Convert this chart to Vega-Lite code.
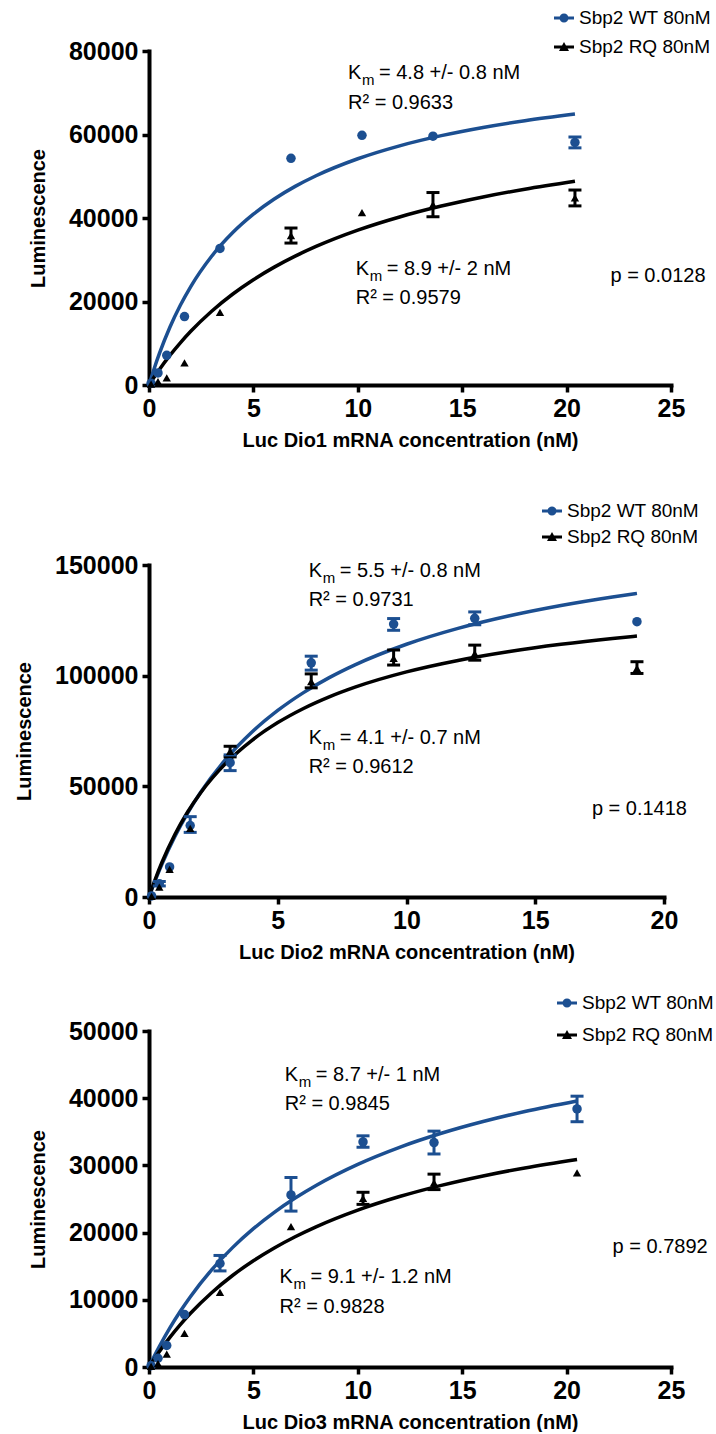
{
  "$schema": "https://vega.github.io/schema/vega-lite/v6.json",
  "padding": {"left": 14, "top": 8, "right": 0, "bottom": 0},
  "spacing": 0,
  "bounds": "flush",
  "resolve": {"scale": {"color": "independent"}, "legend": {"color": "independent"}},
  "config": {
    "view": {"stroke": null},
    "tick": {"opacity": 1},
    "rule": {"opacity": 1},
    "axis": {
      "grid": false,
      "domainColor": "black", "domainWidth": 4, "domainCap": "square",
      "tickColor": "black", "tickWidth": 3.5, "tickSize": 7,
      "labelFont": "Liberation Sans", "labelFontWeight": "bold", "labelFontSize": 25, "labelColor": "black", "labelPadding": 4,
      "titleFont": "Liberation Sans", "titleFontWeight": "bold", "titleFontSize": 20, "titleColor": "black"
    },
    "axisX": {"titlePadding": 9, "labelFlush": false},
    "axisY": {"titlePadding": 20},
    "legend": {"labelFont": "Liberation Sans", "labelFontSize": 19, "labelColor": "black", "symbolSize": 400, "labelOffset": 5, "title": null, "symbolStrokeWidth": 0}
  },
  "datasets": {
    "points": [
      {"panel": "Dio1", "series": "Sbp2 WT 80nM", "x": 0.1, "y": 400},
      {"panel": "Dio1", "series": "Sbp2 WT 80nM", "x": 0.43, "y": 2900},
      {"panel": "Dio1", "series": "Sbp2 WT 80nM", "x": 0.85, "y": 7100},
      {"panel": "Dio1", "series": "Sbp2 WT 80nM", "x": 1.7, "y": 16400},
      {"panel": "Dio1", "series": "Sbp2 WT 80nM", "x": 3.4, "y": 32700},
      {"panel": "Dio1", "series": "Sbp2 WT 80nM", "x": 6.8, "y": 54300},
      {"panel": "Dio1", "series": "Sbp2 WT 80nM", "x": 10.2, "y": 59800},
      {"panel": "Dio1", "series": "Sbp2 WT 80nM", "x": 13.6, "y": 59600},
      {"panel": "Dio1", "series": "Sbp2 WT 80nM", "x": 20.4, "y": 58100, "lo": 56800, "hi": 59400},
      {"panel": "Dio1", "series": "Sbp2 RQ 80nM", "x": 0.1, "y": 200},
      {"panel": "Dio1", "series": "Sbp2 RQ 80nM", "x": 0.43, "y": 800},
      {"panel": "Dio1", "series": "Sbp2 RQ 80nM", "x": 0.85, "y": 1700},
      {"panel": "Dio1", "series": "Sbp2 RQ 80nM", "x": 1.7, "y": 5300},
      {"panel": "Dio1", "series": "Sbp2 RQ 80nM", "x": 3.4, "y": 17400},
      {"panel": "Dio1", "series": "Sbp2 RQ 80nM", "x": 6.8, "y": 35800, "lo": 34000, "hi": 37600},
      {"panel": "Dio1", "series": "Sbp2 RQ 80nM", "x": 10.2, "y": 41300},
      {"panel": "Dio1", "series": "Sbp2 RQ 80nM", "x": 13.6, "y": 43200, "lo": 40300, "hi": 46100},
      {"panel": "Dio1", "series": "Sbp2 RQ 80nM", "x": 20.4, "y": 44800, "lo": 42900, "hi": 46700},
      {"panel": "Dio2", "series": "Sbp2 WT 80nM", "x": 0.1, "y": 500},
      {"panel": "Dio2", "series": "Sbp2 WT 80nM", "x": 0.4, "y": 6000, "lo": 5000, "hi": 7000},
      {"panel": "Dio2", "series": "Sbp2 WT 80nM", "x": 0.8, "y": 13600},
      {"panel": "Dio2", "series": "Sbp2 WT 80nM", "x": 1.6, "y": 32300, "lo": 29200, "hi": 36300},
      {"panel": "Dio2", "series": "Sbp2 WT 80nM", "x": 3.15, "y": 60700, "lo": 57100, "hi": 64200},
      {"panel": "Dio2", "series": "Sbp2 WT 80nM", "x": 6.3, "y": 105800, "lo": 102500, "hi": 108800},
      {"panel": "Dio2", "series": "Sbp2 WT 80nM", "x": 9.5, "y": 123300, "lo": 120500, "hi": 125800},
      {"panel": "Dio2", "series": "Sbp2 WT 80nM", "x": 12.65, "y": 125900, "lo": 123000, "hi": 128800},
      {"panel": "Dio2", "series": "Sbp2 WT 80nM", "x": 18.95, "y": 124400},
      {"panel": "Dio2", "series": "Sbp2 RQ 80nM", "x": 0.1, "y": 300},
      {"panel": "Dio2", "series": "Sbp2 RQ 80nM", "x": 0.4, "y": 4500},
      {"panel": "Dio2", "series": "Sbp2 RQ 80nM", "x": 0.8, "y": 12500},
      {"panel": "Dio2", "series": "Sbp2 RQ 80nM", "x": 1.6, "y": 31000},
      {"panel": "Dio2", "series": "Sbp2 RQ 80nM", "x": 3.15, "y": 65800, "lo": 63300, "hi": 68100},
      {"panel": "Dio2", "series": "Sbp2 RQ 80nM", "x": 6.3, "y": 97300, "lo": 94500, "hi": 100800},
      {"panel": "Dio2", "series": "Sbp2 RQ 80nM", "x": 9.5, "y": 107800, "lo": 104800, "hi": 111600},
      {"panel": "Dio2", "series": "Sbp2 RQ 80nM", "x": 12.65, "y": 110000, "lo": 107000, "hi": 113800},
      {"panel": "Dio2", "series": "Sbp2 RQ 80nM", "x": 18.95, "y": 103300, "lo": 101000, "hi": 106300},
      {"panel": "Dio3", "series": "Sbp2 WT 80nM", "x": 0.1, "y": 200},
      {"panel": "Dio3", "series": "Sbp2 WT 80nM", "x": 0.43, "y": 1300},
      {"panel": "Dio3", "series": "Sbp2 WT 80nM", "x": 0.85, "y": 3200},
      {"panel": "Dio3", "series": "Sbp2 WT 80nM", "x": 1.7, "y": 7800},
      {"panel": "Dio3", "series": "Sbp2 WT 80nM", "x": 3.4, "y": 15400, "lo": 14300, "hi": 16600},
      {"panel": "Dio3", "series": "Sbp2 WT 80nM", "x": 6.8, "y": 25600, "lo": 23200, "hi": 28200},
      {"panel": "Dio3", "series": "Sbp2 WT 80nM", "x": 10.25, "y": 33500, "lo": 32700, "hi": 34400},
      {"panel": "Dio3", "series": "Sbp2 WT 80nM", "x": 13.65, "y": 33400, "lo": 31700, "hi": 35100},
      {"panel": "Dio3", "series": "Sbp2 WT 80nM", "x": 20.5, "y": 38400, "lo": 36500, "hi": 40300},
      {"panel": "Dio3", "series": "Sbp2 RQ 80nM", "x": 0.1, "y": 100},
      {"panel": "Dio3", "series": "Sbp2 RQ 80nM", "x": 0.43, "y": 500},
      {"panel": "Dio3", "series": "Sbp2 RQ 80nM", "x": 0.85, "y": 1900},
      {"panel": "Dio3", "series": "Sbp2 RQ 80nM", "x": 1.7, "y": 5000},
      {"panel": "Dio3", "series": "Sbp2 RQ 80nM", "x": 3.4, "y": 11100},
      {"panel": "Dio3", "series": "Sbp2 RQ 80nM", "x": 6.8, "y": 20900},
      {"panel": "Dio3", "series": "Sbp2 RQ 80nM", "x": 10.25, "y": 25100, "lo": 24200, "hi": 26000},
      {"panel": "Dio3", "series": "Sbp2 RQ 80nM", "x": 13.65, "y": 27400, "lo": 26400, "hi": 28700},
      {"panel": "Dio3", "series": "Sbp2 RQ 80nM", "x": 20.5, "y": 28900}
    ],
    "curves": [
      {"panel": "Dio1", "series": "Sbp2 WT 80nM", "x": 0, "y": 0},
      {"panel": "Dio1", "series": "Sbp2 WT 80nM", "x": 0.25, "y": 3970},
      {"panel": "Dio1", "series": "Sbp2 WT 80nM", "x": 0.5, "y": 7566},
      {"panel": "Dio1", "series": "Sbp2 WT 80nM", "x": 1, "y": 13828},
      {"panel": "Dio1", "series": "Sbp2 WT 80nM", "x": 1.5, "y": 19095},
      {"panel": "Dio1", "series": "Sbp2 WT 80nM", "x": 2, "y": 23588},
      {"panel": "Dio1", "series": "Sbp2 WT 80nM", "x": 3, "y": 30846},
      {"panel": "Dio1", "series": "Sbp2 WT 80nM", "x": 4, "y": 36455},
      {"panel": "Dio1", "series": "Sbp2 WT 80nM", "x": 5, "y": 40918},
      {"panel": "Dio1", "series": "Sbp2 WT 80nM", "x": 6, "y": 44556},
      {"panel": "Dio1", "series": "Sbp2 WT 80nM", "x": 7, "y": 47576},
      {"panel": "Dio1", "series": "Sbp2 WT 80nM", "x": 8, "y": 50125},
      {"panel": "Dio1", "series": "Sbp2 WT 80nM", "x": 10, "y": 54189},
      {"panel": "Dio1", "series": "Sbp2 WT 80nM", "x": 12, "y": 57286},
      {"panel": "Dio1", "series": "Sbp2 WT 80nM", "x": 14, "y": 59723},
      {"panel": "Dio1", "series": "Sbp2 WT 80nM", "x": 16, "y": 61692},
      {"panel": "Dio1", "series": "Sbp2 WT 80nM", "x": 18, "y": 63316},
      {"panel": "Dio1", "series": "Sbp2 WT 80nM", "x": 20.4, "y": 64924},
      {"panel": "Dio1", "series": "Sbp2 RQ 80nM", "x": 0, "y": 0},
      {"panel": "Dio1", "series": "Sbp2 RQ 80nM", "x": 0.25, "y": 1915},
      {"panel": "Dio1", "series": "Sbp2 RQ 80nM", "x": 0.5, "y": 3729},
      {"panel": "Dio1", "series": "Sbp2 RQ 80nM", "x": 1, "y": 7081},
      {"panel": "Dio1", "series": "Sbp2 RQ 80nM", "x": 1.5, "y": 10111},
      {"panel": "Dio1", "series": "Sbp2 RQ 80nM", "x": 2, "y": 12862},
      {"panel": "Dio1", "series": "Sbp2 RQ 80nM", "x": 3, "y": 17672},
      {"panel": "Dio1", "series": "Sbp2 RQ 80nM", "x": 4, "y": 21736},
      {"panel": "Dio1", "series": "Sbp2 RQ 80nM", "x": 5, "y": 25216},
      {"panel": "Dio1", "series": "Sbp2 RQ 80nM", "x": 6, "y": 28228},
      {"panel": "Dio1", "series": "Sbp2 RQ 80nM", "x": 7, "y": 30862},
      {"panel": "Dio1", "series": "Sbp2 RQ 80nM", "x": 8, "y": 33183},
      {"panel": "Dio1", "series": "Sbp2 RQ 80nM", "x": 10, "y": 37090},
      {"panel": "Dio1", "series": "Sbp2 RQ 80nM", "x": 12, "y": 40249},
      {"panel": "Dio1", "series": "Sbp2 RQ 80nM", "x": 14, "y": 42856},
      {"panel": "Dio1", "series": "Sbp2 RQ 80nM", "x": 16, "y": 45044},
      {"panel": "Dio1", "series": "Sbp2 RQ 80nM", "x": 18, "y": 46907},
      {"panel": "Dio1", "series": "Sbp2 RQ 80nM", "x": 20.4, "y": 48807},
      {"panel": "Dio2", "series": "Sbp2 WT 80nM", "x": 0, "y": 0},
      {"panel": "Dio2", "series": "Sbp2 WT 80nM", "x": 0.25, "y": 7696},
      {"panel": "Dio2", "series": "Sbp2 WT 80nM", "x": 0.5, "y": 14750},
      {"panel": "Dio2", "series": "Sbp2 WT 80nM", "x": 1, "y": 27231},
      {"panel": "Dio2", "series": "Sbp2 WT 80nM", "x": 1.5, "y": 37929},
      {"panel": "Dio2", "series": "Sbp2 WT 80nM", "x": 2, "y": 47200},
      {"panel": "Dio2", "series": "Sbp2 WT 80nM", "x": 3, "y": 62471},
      {"panel": "Dio2", "series": "Sbp2 WT 80nM", "x": 4, "y": 74526},
      {"panel": "Dio2", "series": "Sbp2 WT 80nM", "x": 5, "y": 84286},
      {"panel": "Dio2", "series": "Sbp2 WT 80nM", "x": 6, "y": 92348},
      {"panel": "Dio2", "series": "Sbp2 WT 80nM", "x": 7, "y": 99120},
      {"panel": "Dio2", "series": "Sbp2 WT 80nM", "x": 8, "y": 104889},
      {"panel": "Dio2", "series": "Sbp2 WT 80nM", "x": 10, "y": 114194},
      {"panel": "Dio2", "series": "Sbp2 WT 80nM", "x": 12, "y": 121371},
      {"panel": "Dio2", "series": "Sbp2 WT 80nM", "x": 14, "y": 127077},
      {"panel": "Dio2", "series": "Sbp2 WT 80nM", "x": 16, "y": 131721},
      {"panel": "Dio2", "series": "Sbp2 WT 80nM", "x": 18, "y": 135574},
      {"panel": "Dio2", "series": "Sbp2 WT 80nM", "x": 18.95, "y": 137184},
      {"panel": "Dio2", "series": "Sbp2 RQ 80nM", "x": 0, "y": 0},
      {"panel": "Dio2", "series": "Sbp2 RQ 80nM", "x": 0.25, "y": 8241},
      {"panel": "Dio2", "series": "Sbp2 RQ 80nM", "x": 0.5, "y": 15587},
      {"panel": "Dio2", "series": "Sbp2 RQ 80nM", "x": 1, "y": 28118},
      {"panel": "Dio2", "series": "Sbp2 RQ 80nM", "x": 1.5, "y": 38411},
      {"panel": "Dio2", "series": "Sbp2 RQ 80nM", "x": 2, "y": 47016},
      {"panel": "Dio2", "series": "Sbp2 RQ 80nM", "x": 3, "y": 60592},
      {"panel": "Dio2", "series": "Sbp2 RQ 80nM", "x": 4, "y": 70815},
      {"panel": "Dio2", "series": "Sbp2 RQ 80nM", "x": 5, "y": 78791},
      {"panel": "Dio2", "series": "Sbp2 RQ 80nM", "x": 6, "y": 85188},
      {"panel": "Dio2", "series": "Sbp2 RQ 80nM", "x": 7, "y": 90432},
      {"panel": "Dio2", "series": "Sbp2 RQ 80nM", "x": 8, "y": 94810},
      {"panel": "Dio2", "series": "Sbp2 RQ 80nM", "x": 10, "y": 101702},
      {"panel": "Dio2", "series": "Sbp2 RQ 80nM", "x": 12, "y": 106882},
      {"panel": "Dio2", "series": "Sbp2 RQ 80nM", "x": 14, "y": 110917},
      {"panel": "Dio2", "series": "Sbp2 RQ 80nM", "x": 16, "y": 114149},
      {"panel": "Dio2", "series": "Sbp2 RQ 80nM", "x": 18, "y": 116796},
      {"panel": "Dio2", "series": "Sbp2 RQ 80nM", "x": 18.95, "y": 117893},
      {"panel": "Dio3", "series": "Sbp2 WT 80nM", "x": 0, "y": 0},
      {"panel": "Dio3", "series": "Sbp2 WT 80nM", "x": 0.25, "y": 1575},
      {"panel": "Dio3", "series": "Sbp2 WT 80nM", "x": 0.5, "y": 3065},
      {"panel": "Dio3", "series": "Sbp2 WT 80nM", "x": 1, "y": 5814},
      {"panel": "Dio3", "series": "Sbp2 WT 80nM", "x": 1.5, "y": 8294},
      {"panel": "Dio3", "series": "Sbp2 WT 80nM", "x": 2, "y": 10542},
      {"panel": "Dio3", "series": "Sbp2 WT 80nM", "x": 3, "y": 14462},
      {"panel": "Dio3", "series": "Sbp2 WT 80nM", "x": 4, "y": 17764},
      {"panel": "Dio3", "series": "Sbp2 WT 80nM", "x": 5, "y": 20584},
      {"panel": "Dio3", "series": "Sbp2 WT 80nM", "x": 6, "y": 23020},
      {"panel": "Dio3", "series": "Sbp2 WT 80nM", "x": 7, "y": 25146},
      {"panel": "Dio3", "series": "Sbp2 WT 80nM", "x": 8, "y": 27018},
      {"panel": "Dio3", "series": "Sbp2 WT 80nM", "x": 10, "y": 30160},
      {"panel": "Dio3", "series": "Sbp2 WT 80nM", "x": 12, "y": 32696},
      {"panel": "Dio3", "series": "Sbp2 WT 80nM", "x": 14, "y": 34784},
      {"panel": "Dio3", "series": "Sbp2 WT 80nM", "x": 16, "y": 36534},
      {"panel": "Dio3", "series": "Sbp2 WT 80nM", "x": 18, "y": 38022},
      {"panel": "Dio3", "series": "Sbp2 WT 80nM", "x": 20.5, "y": 39596},
      {"panel": "Dio3", "series": "Sbp2 RQ 80nM", "x": 0, "y": 0},
      {"panel": "Dio3", "series": "Sbp2 RQ 80nM", "x": 0.25, "y": 1193},
      {"panel": "Dio3", "series": "Sbp2 RQ 80nM", "x": 0.5, "y": 2323},
      {"panel": "Dio3", "series": "Sbp2 RQ 80nM", "x": 1, "y": 4416},
      {"panel": "Dio3", "series": "Sbp2 RQ 80nM", "x": 1.5, "y": 6311},
      {"panel": "Dio3", "series": "Sbp2 RQ 80nM", "x": 2, "y": 8036},
      {"panel": "Dio3", "series": "Sbp2 RQ 80nM", "x": 3, "y": 11058},
      {"panel": "Dio3", "series": "Sbp2 RQ 80nM", "x": 4, "y": 13618},
      {"panel": "Dio3", "series": "Sbp2 RQ 80nM", "x": 5, "y": 15816},
      {"panel": "Dio3", "series": "Sbp2 RQ 80nM", "x": 6, "y": 17722},
      {"panel": "Dio3", "series": "Sbp2 RQ 80nM", "x": 7, "y": 19391},
      {"panel": "Dio3", "series": "Sbp2 RQ 80nM", "x": 8, "y": 20865},
      {"panel": "Dio3", "series": "Sbp2 RQ 80nM", "x": 10, "y": 23351},
      {"panel": "Dio3", "series": "Sbp2 RQ 80nM", "x": 12, "y": 25365},
      {"panel": "Dio3", "series": "Sbp2 RQ 80nM", "x": 14, "y": 27030},
      {"panel": "Dio3", "series": "Sbp2 RQ 80nM", "x": 16, "y": 28430},
      {"panel": "Dio3", "series": "Sbp2 RQ 80nM", "x": 18, "y": 29624},
      {"panel": "Dio3", "series": "Sbp2 RQ 80nM", "x": 20.5, "y": 30889}
    ],
    "notes": [
      {"panel": "Dio1", "x": 9.53, "y": 74800, "head": "K", "sub": "m", "tail": "= 4.8 +/- 0.8 nM"},
      {"panel": "Dio1", "x": 9.53, "y": 67500, "head": "R² = 0.9633", "sub": "", "tail": ""},
      {"panel": "Dio1", "x": 9.9, "y": 27800, "head": "K", "sub": "m", "tail": "= 8.9 +/- 2 nM"},
      {"panel": "Dio1", "x": 9.9, "y": 20800, "head": "R² = 0.9579", "sub": "", "tail": ""},
      {"panel": "Dio1", "x": 22.1, "y": 26100, "head": "p = 0.0128", "sub": "", "tail": ""},
      {"panel": "Dio2", "x": 6.2, "y": 147400, "head": "K", "sub": "m", "tail": "= 5.5 +/- 0.8 nM"},
      {"panel": "Dio2", "x": 6.2, "y": 134200, "head": "R² = 0.9731", "sub": "", "tail": ""},
      {"panel": "Dio2", "x": 6.2, "y": 71800, "head": "K", "sub": "m", "tail": "= 4.1 +/- 0.7 nM"},
      {"panel": "Dio2", "x": 6.2, "y": 58700, "head": "R² = 0.9612", "sub": "", "tail": ""},
      {"panel": "Dio2", "x": 17.2, "y": 39800, "head": "p = 0.1418", "sub": "", "tail": ""},
      {"panel": "Dio3", "x": 6.5, "y": 43500, "head": "K", "sub": "m", "tail": "=  8.7 +/- 1 nM"},
      {"panel": "Dio3", "x": 6.5, "y": 39100, "head": "R² = 0.9845", "sub": "", "tail": ""},
      {"panel": "Dio3", "x": 6.25, "y": 13400, "head": "K", "sub": "m", "tail": "= 9.1 +/- 1.2 nM"},
      {"panel": "Dio3", "x": 6.25, "y": 8900, "head": "R² = 0.9828", "sub": "", "tail": ""},
      {"panel": "Dio3", "x": 22.2, "y": 17900, "head": "p = 0.7892", "sub": "", "tail": ""}
    ]
  },
  "vconcat": [
    {
      "width": 522, "height": 334,
      "encoding": {
        "x": {"field": "x", "type": "quantitative", "title": "Luc Dio1 mRNA concentration (nM)", "scale": {"domain": [0, 25], "nice": false}, "axis": {"values": [0, 5, 10, 15, 20, 25], "format": "d"}},
        "y": {"field": "y", "type": "quantitative", "title": "Luminescence", "scale": {"domain": [0, 80000], "nice": false}, "axis": {"values": [0, 20000, 40000, 60000, 80000], "format": "d"}},
        "color": {"field": "series", "type": "nominal", "scale": {"domain": ["Sbp2 WT 80nM", "Sbp2 RQ 80nM"], "range": ["#1c4f91", "#000000"]},
          "legend": {"orient": "none", "legendX": 405, "legendY": -43, "rowPadding": 9,
            "encode": {"symbols": {"update": {
              "shape": {"signal": "datum.value == 'Sbp2 WT 80nM' ? 'M-1,-0.15H1V0.15H-1Z M-0.45,0A0.45,0.45,0,1,1,0.45,0A0.45,0.45,0,1,1,-0.45,0Z' : 'M-1,-0.15H1V0.15H-1Z M0,-0.5L0.5,0.4L-0.5,0.4Z'"},
              "fill": {"signal": "datum.value == 'Sbp2 WT 80nM' ? '#1c4f91' : '#000000'"},
              "fillOpacity": {"value": 1}, "opacity": {"value": 1}, "strokeWidth": {"value": 0}}}}}}
      },
      "layer": [
        {"data": {"name": "curves"}, "transform": [{"filter": "datum.panel == 'Dio1'"}], "mark": {"type": "line", "strokeWidth": 3.5, "interpolate": "monotone"}},
        {"data": {"name": "points"}, "transform": [{"filter": "datum.panel == 'Dio1' && isValid(datum.lo)"}], "mark": {"type": "rule", "strokeWidth": 3, "opacity": 1}, "encoding": {"y": {"field": "lo", "type": "quantitative", "title": "Luminescence"}, "y2": {"field": "hi"}}},
        {"data": {"name": "points"}, "transform": [{"filter": "datum.panel == 'Dio1' && isValid(datum.lo)"}], "mark": {"type": "tick", "orient": "horizontal", "size": 13, "thickness": 3, "opacity": 1}, "encoding": {"y": {"field": "lo", "type": "quantitative", "title": "Luminescence"}}},
        {"data": {"name": "points"}, "transform": [{"filter": "datum.panel == 'Dio1' && isValid(datum.lo)"}], "mark": {"type": "tick", "orient": "horizontal", "size": 13, "thickness": 3, "opacity": 1}, "encoding": {"y": {"field": "hi", "type": "quantitative", "title": "Luminescence"}}},
        {"data": {"name": "points"}, "transform": [{"filter": "datum.panel == 'Dio1' && datum.series == 'Sbp2 WT 80nM'"}], "mark": {"type": "point", "shape": "circle", "filled": true, "opacity": 1, "size": 90}},
        {"data": {"name": "points"}, "transform": [{"filter": "datum.panel == 'Dio1' && datum.series == 'Sbp2 RQ 80nM'"}], "mark": {"type": "point", "shape": "triangle-up", "filled": true, "opacity": 1, "size": 70}},
        {"data": {"name": "notes"}, "transform": [{"filter": "datum.panel == 'Dio1'"}], "mark": {"type": "text", "align": "left", "baseline": "middle", "font": "Liberation Sans", "fontSize": 20}, "encoding": {"text": {"field": "head"}, "color": {"value": "black"}}},
        {"data": {"name": "notes"}, "transform": [{"filter": "datum.panel == 'Dio1'"}], "mark": {"type": "text", "align": "left", "baseline": "middle", "font": "Liberation Sans", "fontSize": 15, "dx": 14, "dy": 7}, "encoding": {"text": {"field": "sub"}, "color": {"value": "black"}}},
        {"data": {"name": "notes"}, "transform": [{"filter": "datum.panel == 'Dio1'"}], "mark": {"type": "text", "align": "left", "baseline": "middle", "font": "Liberation Sans", "fontSize": 20, "dx": 31}, "encoding": {"text": {"field": "tail"}, "color": {"value": "black"}}}
      ]
    },
    {"width": 10, "height": 180, "data": {"values": []}, "mark": "point", "encoding": {}},
    {
      "width": 515, "height": 332,
      "encoding": {
        "x": {"field": "x", "type": "quantitative", "title": "Luc Dio2 mRNA concentration (nM)", "scale": {"domain": [0, 20], "nice": false}, "axis": {"values": [0, 5, 10, 15, 20], "format": "d"}},
        "y": {"field": "y", "type": "quantitative", "title": "Luminescence", "scale": {"domain": [0, 150000], "nice": false}, "axis": {"values": [0, 50000, 100000, 150000], "format": "d"}},
        "color": {"field": "series", "type": "nominal", "scale": {"domain": ["Sbp2 WT 80nM", "Sbp2 RQ 80nM"], "range": ["#1c4f91", "#000000"]},
          "legend": {"orient": "none", "legendX": 393, "legendY": -64, "rowPadding": 6,
            "encode": {"symbols": {"update": {
              "shape": {"signal": "datum.value == 'Sbp2 WT 80nM' ? 'M-1,-0.15H1V0.15H-1Z M-0.45,0A0.45,0.45,0,1,1,0.45,0A0.45,0.45,0,1,1,-0.45,0Z' : 'M-1,-0.15H1V0.15H-1Z M0,-0.5L0.5,0.4L-0.5,0.4Z'"},
              "fill": {"signal": "datum.value == 'Sbp2 WT 80nM' ? '#1c4f91' : '#000000'"},
              "fillOpacity": {"value": 1}, "opacity": {"value": 1}, "strokeWidth": {"value": 0}}}}}}
      },
      "layer": [
        {"data": {"name": "curves"}, "transform": [{"filter": "datum.panel == 'Dio2'"}], "mark": {"type": "line", "strokeWidth": 3.5, "interpolate": "monotone"}},
        {"data": {"name": "points"}, "transform": [{"filter": "datum.panel == 'Dio2' && isValid(datum.lo)"}], "mark": {"type": "rule", "strokeWidth": 3, "opacity": 1}, "encoding": {"y": {"field": "lo", "type": "quantitative", "title": "Luminescence"}, "y2": {"field": "hi"}}},
        {"data": {"name": "points"}, "transform": [{"filter": "datum.panel == 'Dio2' && isValid(datum.lo)"}], "mark": {"type": "tick", "orient": "horizontal", "size": 13, "thickness": 3, "opacity": 1}, "encoding": {"y": {"field": "lo", "type": "quantitative", "title": "Luminescence"}}},
        {"data": {"name": "points"}, "transform": [{"filter": "datum.panel == 'Dio2' && isValid(datum.lo)"}], "mark": {"type": "tick", "orient": "horizontal", "size": 13, "thickness": 3, "opacity": 1}, "encoding": {"y": {"field": "hi", "type": "quantitative", "title": "Luminescence"}}},
        {"data": {"name": "points"}, "transform": [{"filter": "datum.panel == 'Dio2' && datum.series == 'Sbp2 WT 80nM'"}], "mark": {"type": "point", "shape": "circle", "filled": true, "opacity": 1, "size": 90}},
        {"data": {"name": "points"}, "transform": [{"filter": "datum.panel == 'Dio2' && datum.series == 'Sbp2 RQ 80nM'"}], "mark": {"type": "point", "shape": "triangle-up", "filled": true, "opacity": 1, "size": 70}},
        {"data": {"name": "notes"}, "transform": [{"filter": "datum.panel == 'Dio2'"}], "mark": {"type": "text", "align": "left", "baseline": "middle", "font": "Liberation Sans", "fontSize": 20}, "encoding": {"text": {"field": "head"}, "color": {"value": "black"}}},
        {"data": {"name": "notes"}, "transform": [{"filter": "datum.panel == 'Dio2'"}], "mark": {"type": "text", "align": "left", "baseline": "middle", "font": "Liberation Sans", "fontSize": 15, "dx": 14, "dy": 7}, "encoding": {"text": {"field": "sub"}, "color": {"value": "black"}}},
        {"data": {"name": "notes"}, "transform": [{"filter": "datum.panel == 'Dio2'"}], "mark": {"type": "text", "align": "left", "baseline": "middle", "font": "Liberation Sans", "fontSize": 20, "dx": 31}, "encoding": {"text": {"field": "tail"}, "color": {"value": "black"}}}
      ]
    },
    {"width": 10, "height": 134, "data": {"values": []}, "mark": "point", "encoding": {}},
    {
      "width": 522, "height": 336,
      "encoding": {
        "x": {"field": "x", "type": "quantitative", "title": "Luc Dio3 mRNA concentration (nM)", "scale": {"domain": [0, 25], "nice": false}, "axis": {"values": [0, 5, 10, 15, 20, 25], "format": "d"}},
        "y": {"field": "y", "type": "quantitative", "title": "Luminescence", "scale": {"domain": [0, 50000], "nice": false}, "axis": {"values": [0, 10000, 20000, 30000, 40000, 50000], "format": "d"}},
        "color": {"field": "series", "type": "nominal", "scale": {"domain": ["Sbp2 WT 80nM", "Sbp2 RQ 80nM"], "range": ["#1c4f91", "#000000"]},
          "legend": {"orient": "none", "legendX": 408, "legendY": -38, "rowPadding": 12,
            "encode": {"symbols": {"update": {
              "shape": {"signal": "datum.value == 'Sbp2 WT 80nM' ? 'M-1,-0.15H1V0.15H-1Z M-0.45,0A0.45,0.45,0,1,1,0.45,0A0.45,0.45,0,1,1,-0.45,0Z' : 'M-1,-0.15H1V0.15H-1Z M0,-0.5L0.5,0.4L-0.5,0.4Z'"},
              "fill": {"signal": "datum.value == 'Sbp2 WT 80nM' ? '#1c4f91' : '#000000'"},
              "fillOpacity": {"value": 1}, "opacity": {"value": 1}, "strokeWidth": {"value": 0}}}}}}
      },
      "layer": [
        {"data": {"name": "curves"}, "transform": [{"filter": "datum.panel == 'Dio3'"}], "mark": {"type": "line", "strokeWidth": 3.5, "interpolate": "monotone"}},
        {"data": {"name": "points"}, "transform": [{"filter": "datum.panel == 'Dio3' && isValid(datum.lo)"}], "mark": {"type": "rule", "strokeWidth": 3, "opacity": 1}, "encoding": {"y": {"field": "lo", "type": "quantitative", "title": "Luminescence"}, "y2": {"field": "hi"}}},
        {"data": {"name": "points"}, "transform": [{"filter": "datum.panel == 'Dio3' && isValid(datum.lo)"}], "mark": {"type": "tick", "orient": "horizontal", "size": 13, "thickness": 3, "opacity": 1}, "encoding": {"y": {"field": "lo", "type": "quantitative", "title": "Luminescence"}}},
        {"data": {"name": "points"}, "transform": [{"filter": "datum.panel == 'Dio3' && isValid(datum.lo)"}], "mark": {"type": "tick", "orient": "horizontal", "size": 13, "thickness": 3, "opacity": 1}, "encoding": {"y": {"field": "hi", "type": "quantitative", "title": "Luminescence"}}},
        {"data": {"name": "points"}, "transform": [{"filter": "datum.panel == 'Dio3' && datum.series == 'Sbp2 WT 80nM'"}], "mark": {"type": "point", "shape": "circle", "filled": true, "opacity": 1, "size": 90}},
        {"data": {"name": "points"}, "transform": [{"filter": "datum.panel == 'Dio3' && datum.series == 'Sbp2 RQ 80nM'"}], "mark": {"type": "point", "shape": "triangle-up", "filled": true, "opacity": 1, "size": 70}},
        {"data": {"name": "notes"}, "transform": [{"filter": "datum.panel == 'Dio3'"}], "mark": {"type": "text", "align": "left", "baseline": "middle", "font": "Liberation Sans", "fontSize": 20}, "encoding": {"text": {"field": "head"}, "color": {"value": "black"}}},
        {"data": {"name": "notes"}, "transform": [{"filter": "datum.panel == 'Dio3'"}], "mark": {"type": "text", "align": "left", "baseline": "middle", "font": "Liberation Sans", "fontSize": 15, "dx": 14, "dy": 7}, "encoding": {"text": {"field": "sub"}, "color": {"value": "black"}}},
        {"data": {"name": "notes"}, "transform": [{"filter": "datum.panel == 'Dio3'"}], "mark": {"type": "text", "align": "left", "baseline": "middle", "font": "Liberation Sans", "fontSize": 20, "dx": 31}, "encoding": {"text": {"field": "tail"}, "color": {"value": "black"}}}
      ]
    }
  ]
}
